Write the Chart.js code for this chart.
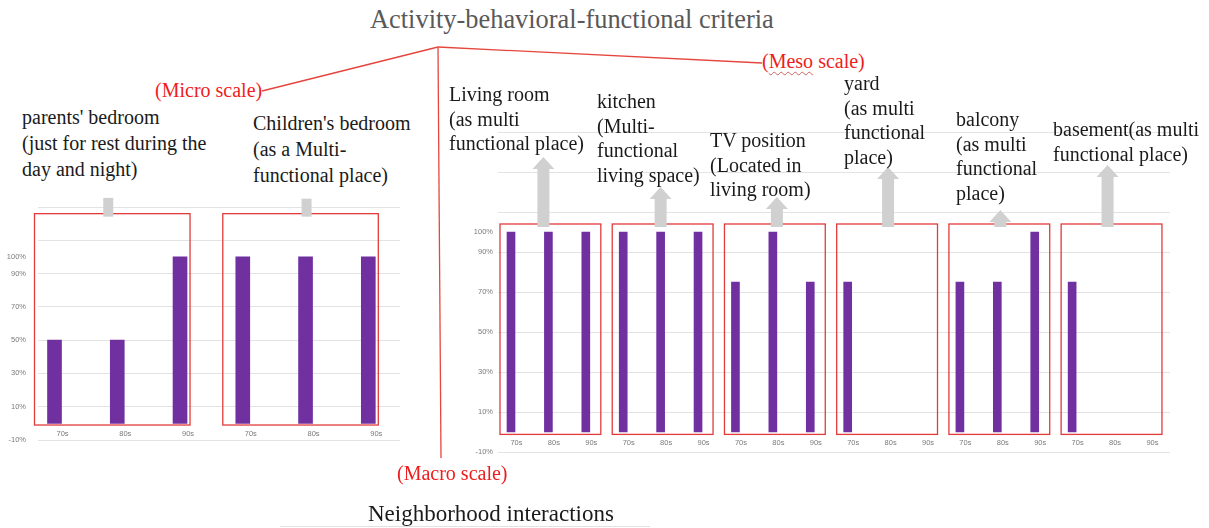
<!DOCTYPE html>
<html>
<head>
<meta charset="utf-8">
<script src="https://cdn.jsdelivr.net/npm/chart.js@4.4.1/dist/chart.umd.min.js"></script>
<style>
  html, body { margin: 0; padding: 0; background: #fff; }
  #page { position: relative; width: 1209px; height: 528px; overflow: hidden; font-family: "Liberation Serif", "Times New Roman", serif; }
  canvas { position: absolute; }
  .txt { position: absolute; white-space: nowrap; color: #1a1a1a; font-size: 20px; z-index: 2; }
  .red { color: #ee1c1c; line-height: 20px; }
  .micro-lbl { line-height: 26px; }
  .meso-lbl { line-height: 24.5px; }
  .typo { text-decoration: underline wavy rgba(190, 40, 40, 0.7); text-decoration-thickness: 1px; text-underline-offset: 3px; }
  svg { position: absolute; left: 0; top: 0; z-index: 3; }
</style>
</head>
<body>
<div id="page">
  <canvas id="micro" width="420" height="270" style="left:0;top:190px"></canvas>
  <canvas id="meso" width="769" height="360" style="left:440px;top:110px"></canvas>

  <div class="txt" style="left:370px;top:6px;font-size:26.4px;line-height:26px;color:#595959">Activity-behavioral-functional criteria</div>
  <div class="txt red" style="left:155px;top:80px">(Micro scale)</div>
  <div class="txt red" style="left:762px;top:51px">(<span class="typo">Meso</span> scale)</div>
  <div class="txt red" style="left:397px;top:463px">(Macro scale)</div>
  <div class="txt" style="left:368px;top:502px;font-size:23px;line-height:23px">Neighborhood interactions</div>
  <div style="position:absolute;left:280px;top:526px;width:370px;height:1px;background:#e2e2e2"></div>

  <svg width="1209" height="528">
    <g stroke="#e5473f" stroke-width="1.3" fill="none">
      <line x1="262" y1="91" x2="438" y2="47"></line>
      <line x1="438" y1="47" x2="762" y2="63"></line>
      <line x1="438" y1="47" x2="441" y2="458"></line>
    </g>
  </svg>
</div>

<script>
const decades = ['70s', '80s', '90s'];

const microRooms = [
  ["parents' bedroom", '(just for rest during the', 'day and night)'],
  ["Children's bedroom", '(as a Multi-', 'functional place)']
];
const microShares = [50, 50, 100, 100, 100, 100];

const mesoRooms = [
  ['Living room', '(as multi', 'functional place)'],
  ['kitchen', '(Multi-', 'functional', 'living space)'],
  ['TV position', '(Located in', 'living room)'],
  ['yard', '(as multi', 'functional', 'place)'],
  ['balcony', '(as multi', 'functional', 'place)'],
  ['basement(as multi', 'functional place)']
];
const mesoShares = [100, 100, 100, 100, 100, 100, 75, 100, 75, 75, 0, 0, 75, 75, 100, 75, 0, 0];

const yTickLabels = [-10, 10, 30, 50, 70, 90, 100];
const yGridValues = [-10, 10, 30, 50, 70, 90, 110, 130, 150];

// where the room captions sit on the page (left, top)
const microLabelAt = [[22, 104], [253, 110]];
const mesoLabelAt = [[449, 82], [597, 89], [710, 128], [844, 71], [956, 107], [1053, 117]];

function placeLabels(rooms, spots, cls) {
  const page = document.getElementById('page');
  rooms.forEach((lines, i) => {
    const d = document.createElement('div');
    d.className = 'txt ' + cls;
    d.style.left = spots[i][0] + 'px';
    d.style.top = spots[i][1] + 'px';
    d.innerHTML = lines.join('<br>');
    page.appendChild(d);
  });
}
placeLabels(microRooms, microLabelAt, 'micro-lbl');
placeLabels(mesoRooms, mesoLabelAt, 'meso-lbl');

// red frame round every room's three bars, grey arrow pointing up to its caption
const roomBoxes = {
  id: 'roomBoxes',
  afterDatasetsDraw(chart, args, o) {
    const { ctx, scales: { x, y } } = chart;
    const top = y.getPixelForValue(o.top);
    const bottom = y.getPixelForValue(o.bottom);
    ctx.save();
    for (let g = 0; g < o.tips.length; g++) {
      const left = x.getPixelForValue(g * 3) - o.padLeft;
      const right = x.getPixelForValue(g * 3 + 2) + o.padRight;
      ctx.strokeStyle = '#e23b3b';
      ctx.lineWidth = 1.3;
      ctx.strokeRect(left, top, right - left, bottom - top);

      const mid = (left + right) / 2 + o.nudge[g];
      const tip = y.getPixelForValue(o.tips[g]);
      ctx.fillStyle = '#d0d0d0';
      ctx.fillRect(mid - o.shaft / 2, tip + o.headH, o.shaft, top + 3 - tip - o.headH);
      if (o.headH > 0) {
        ctx.beginPath();
        ctx.moveTo(mid, tip);
        ctx.lineTo(mid + o.headW / 2, tip + o.headH);
        ctx.lineTo(mid - o.headW / 2, tip + o.headH);
        ctx.closePath();
        ctx.fill();
      }
    }
    ctx.restore();
  }
};

function makePanel(id, values, cfg) {
  const tickFont = { size: 7.5, family: 'Liberation Sans' };
  return new Chart(document.getElementById(id), {
    type: 'bar',
    data: {
      datasets: [{
        data: values.map((v, i) => ({ x: i, y: v })),
        backgroundColor: c => (c.raw && c.raw.y ? '#7030a0' : 'rgba(0,0,0,0)'),
        borderWidth: 0,
        barThickness: cfg.barWidth
      }]
    },
    options: {
      responsive: false,
      animation: false,
      layout: { padding: cfg.padding },
      plugins: { legend: { display: false }, tooltip: { enabled: false }, roomBoxes: cfg.boxes },
      scales: {
        x: {
          type: 'linear',
          position: { y: 0 },
          offset: false,
          min: cfg.xMin,
          max: cfg.xMax,
          afterBuildTicks: s => { s.ticks = values.map((_, i) => ({ value: i })); },
          grid: { display: false, offset: false, drawTicks: false },
          border: { display: false },
          ticks: {
            autoSkip: false, maxRotation: 0, labelOffset: cfg.labelOffset, padding: cfg.xPad,
            color: '#7a7a7a', font: tickFont,
            callback: v => decades[v % 3]
          }
        },
        y: {
          min: -10,
          max: cfg.yMax,
          afterFit: s => { s.width = cfg.axisWidth; },
          afterBuildTicks: s => {
            s.ticks = yGridValues.filter(v => v <= cfg.yMax).concat([100])
              .sort((a, b) => a - b).map(value => ({ value }));
          },
          grid: { color: c => (c.tick && c.tick.value === 100 ? 'rgba(0,0,0,0)' : '#e3e3e3'), drawTicks: false },
          border: { display: false },
          ticks: {
            autoSkip: false, padding: cfg.tickPad, color: '#7a7a7a', font: tickFont,
            callback: v => (yTickLabels.includes(v) ? v + '%' : '')
          }
        }
      }
    },
    plugins: [roomBoxes]
  });
}

makePanel('micro', microShares, {
  barWidth: 14, axisWidth: 38, tickPad: 12, labelOffset: 8, xPad: 6,
  xMin: -0.263, xMax: 5.505, yMax: 130,
  padding: { top: 17, right: 20, bottom: 20, left: 0 },
  boxes: { top: 126, bottom: -1, padLeft: 20, padRight: 10, shaft: 10, headW: 0, headH: 0,
           tips: [135.5, 135], nudge: [-4, 6] }
});

makePanel('meso', mesoShares, {
  barWidth: 8, axisWidth: 58, tickPad: 5, labelOffset: 5.5, xPad: 6,
  xMin: -0.3475, xMax: 17.616, yMax: 150,
  padding: { top: 22, right: 39, bottom: 18, left: 0 },
  boxes: { top: 104, bottom: -1.2, padLeft: 11, padRight: 15, shaft: 12, headW: 22, headH: 12,
           tips: [137.5, 122.5, 117.5, 132.5, 111, 133.5], nudge: [-7, -2, 2, 1, 1, -4] }
});
</script>
</body>
</html>
